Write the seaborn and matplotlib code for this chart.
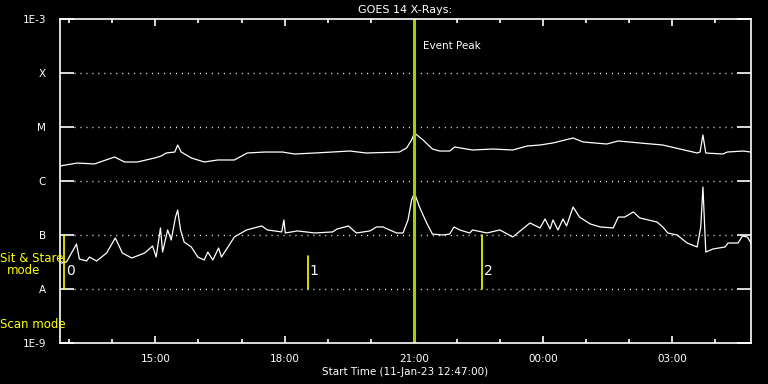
import pandas as pd
import seaborn as sns
import matplotlib.pyplot as plt
import matplotlib.dates as mdates
from matplotlib.ticker import FixedLocator, NullFormatter

# GOES 14 flux (W/m^2)
long_times = ["12:47", "13:11", "13:35", "14:03", "14:17", "14:35", "14:59", "15:08", "15:15",
              "15:27", "15:31", "15:36", "15:50", "16:08", "16:27", "16:50", "17:08", "17:32",
              "17:57", "18:14", "18:42", "19:31", "19:54", "20:40", "20:50", "20:57", "21:01",
              "21:13", "21:26", "21:36", "21:50", "21:57", "22:22", "22:50", "23:18", "23:38",
              "23:56", "00:14", "00:42", "00:56", "01:29", "01:45", "02:15", "02:47", "03:11",
              "03:35", "03:39", "03:43", "03:47", "04:11", "04:17", "04:39", "04:50"]
long_flux = [1.9e-6, 2.15e-6, 2.07e-6, 2.78e-6, 2.25e-6, 2.25e-6, 2.67e-6, 2.9e-6, 3.3e-6,
             3.44e-6, 4.64e-6, 3.44e-6, 2.67e-6, 2.25e-6, 2.45e-6, 2.45e-6, 3.3e-6, 3.44e-6,
             3.44e-6, 3.16e-6, 3.3e-6, 3.59e-6, 3.3e-6, 3.44e-6, 4.08e-6, 5.74e-6, 7.74e-6,
             5.74e-6, 3.91e-6, 3.59e-6, 3.59e-6, 4.26e-6, 3.75e-6, 3.91e-6, 3.75e-6, 4.45e-6,
             4.64e-6, 5.06e-6, 6.25e-6, 5.28e-6, 4.84e-6, 5.51e-6, 5.06e-6, 4.64e-6, 3.91e-6,
             3.3e-6, 3.44e-6, 7.11e-6, 3.3e-6, 3.16e-6, 3.44e-6, 3.59e-6, 3.44e-6]

short_times = ["12:49", "12:56", "13:10", "13:14", "13:24", "13:28", "13:38", "13:52", "14:04",
               "14:14", "14:27", "14:45", "14:56", "15:01", "15:07", "15:10", "15:17", "15:22",
               "15:28", "15:31", "15:35", "15:40", "15:50", "15:59", "16:08", "16:13", "16:20",
               "16:28", "16:32", "16:50", "17:07", "17:28", "17:36", "17:56", "17:59", "18:01",
               "18:18", "18:42", "19:07", "19:13", "19:29", "19:40", "19:59", "20:08", "20:17",
               "20:36", "20:45", "20:52", "20:57", "21:01", "21:08", "21:18", "21:26", "21:40",
               "21:50", "21:56", "22:04", "22:18", "22:22", "22:42", "23:00", "23:18", "23:42",
               "23:56", "00:03", "00:10", "00:14", "00:21", "00:28", "00:33", "00:42", "00:51",
               "01:06", "01:20", "01:38", "01:45", "01:54", "02:06", "02:15", "02:39", "02:47",
               "02:54", "03:07", "03:21", "03:35", "03:40", "03:43", "03:47", "03:57", "04:14",
               "04:18", "04:32", "04:38", "04:45", "04:50"]
short_flux = [3.03e-8, 3.16e-8, 6.81e-8, 3.59e-8, 3.3e-8, 3.91e-8, 3.3e-8, 4.64e-8, 8.8e-8,
              4.64e-8, 3.75e-8, 4.64e-8, 6.25e-8, 3.91e-8, 1.35e-7, 4.84e-8, 1.24e-7, 8.07e-8,
              2.15e-7, 2.9e-7, 1.24e-7, 7.41e-8, 6.0e-8, 3.91e-8, 3.44e-8, 4.84e-8, 3.44e-8,
              5.74e-8, 3.91e-8, 9.18e-8, 1.24e-7, 1.47e-7, 1.24e-7, 1.14e-7, 1.9e-7, 1.09e-7,
              1.19e-7, 1.09e-7, 1.14e-7, 1.29e-7, 1.47e-7, 1.09e-7, 1.19e-7, 1.41e-7, 1.41e-7,
              1.09e-7, 1.09e-7, 1.9e-7, 4.45e-7, 6.0e-7, 3.3e-7, 1.67e-7, 1.04e-7, 1.0e-7,
              1.04e-7, 1.41e-7, 1.24e-7, 1.09e-7, 1.24e-7, 1.09e-7, 1.24e-7, 9.18e-8, 1.67e-7,
              1.35e-7, 1.98e-7, 1.29e-7, 1.9e-7, 1.24e-7, 1.98e-7, 1.47e-7, 3.3e-7, 2.15e-7,
              1.6e-7, 1.41e-7, 1.35e-7, 2.15e-7, 2.15e-7, 2.67e-7, 2.07e-7, 1.74e-7, 1.41e-7,
              1.09e-7, 1.0e-7, 7.11e-8, 6.0e-8, 1.41e-7, 7.74e-7, 4.84e-8, 5.51e-8, 6.0e-8,
              7.11e-8, 7.11e-8, 9.58e-8, 9.18e-8, 7.11e-8]

level_values = [1e-3, 1e-4, 1e-5, 1e-6, 1e-7, 1e-8, 1e-9]
level_labels = ["1E-3", "X", "M", "C", "B", "A", "1E-9"]

marker_times = ["12:53", "18:32", "22:35"]
marker_names = ["0", "1", "2"]
marker_tops = [1e-7, 4.1e-8, 1e-7]
event_peak = "21:00"
start, end = "12:47", "04:50"


def to_dt(t):
    day = "2023-01-11" if int(t[:2]) >= 12 else "2023-01-12"
    return pd.Timestamp(day + " " + t)


df_long = pd.DataFrame({"time": [to_dt(t) for t in long_times], "flux": long_flux})
df_short = pd.DataFrame({"time": [to_dt(t) for t in short_times], "flux": short_flux})

sns.set_style("dark", {"axes.facecolor": "black", "figure.facecolor": "black"})
plt.rcParams["font.family"] = ["DejaVu Sans"]

fig = plt.figure(figsize=(7.68, 3.84), dpi=100)
ax = fig.add_axes([60 / 768, 41 / 384, 691 / 768, 324 / 384])
ax.set_facecolor("black")

sns.lineplot(data=df_long, x="time", y="flux", color="white", lw=0.9, ax=ax)
sns.lineplot(data=df_short, x="time", y="flux", color="white", lw=0.9, ax=ax)

ax.set_yscale("log")
ax.set_ylim(1e-9, 1e-3)
ax.set_xlim(to_dt(start), to_dt(end))

# dotted class levels
for v in level_values[1:-1]:
    ax.axhline(v, color="white", lw=1, ls=(0, (0.7, 3.6)), xmin=0.02, xmax=0.98)

# marker lines
for t, name, top in zip(marker_times, marker_names, marker_tops):
    ax.plot([to_dt(t), to_dt(t)], [1e-8, top], color="#ffff00", lw=1.2)
    ax.text(to_dt(t) + pd.Timedelta(minutes=3), 1.6e-8, name, color="white", fontsize=10,
            va="bottom", ha="left")

ax.axvline(to_dt(event_peak), color="#a2d000", lw=2.2)
ax.text(to_dt(event_peak) + pd.Timedelta(minutes=13), 3.2e-4, "Event Peak", color="white",
        fontsize=7.5, va="center")

# axes styling
for s in ax.spines.values():
    s.set_color("white")
    s.set_linewidth(1.2)
ax.yaxis.set_major_locator(FixedLocator(level_values))
ax.yaxis.set_minor_locator(FixedLocator([]))
ax.set_yticklabels(level_labels)
ax.tick_params(axis="y", which="major", direction="in", length=10, width=1.2, color="white",
               labelcolor="white", labelsize=7.5, right=True, left=True, pad=10)
ax.xaxis.set_major_locator(mdates.HourLocator(byhour=[0, 3, 15, 18, 21]))
ax.xaxis.set_minor_locator(mdates.HourLocator())
ax.xaxis.set_major_formatter(mdates.DateFormatter("%H:%M"))
ax.xaxis.set_minor_formatter(NullFormatter())
ax.tick_params(axis="x", which="major", direction="in", length=5, width=1.2, color="white",
               labelcolor="white", labelsize=7.5, top=True, bottom=True, pad=8)
ax.tick_params(axis="x", which="minor", direction="in", length=3, width=1.2, color="white",
               top=True, bottom=True)
ax.grid(False)
ax.set_xlabel("Start Time (11-Jan-23 12:47:00)", color="white", fontsize=7.5, labelpad=2)
ax.set_ylabel("")
ax.set_title("GOES 14 X-Rays:", color="white", fontsize=8, pad=4)

fig.text(0.5 / 768, 1 - 258 / 384, "Sit & Stare", color="#ffff00", fontsize=8.5, va="center")
fig.text(24 / 768, 1 - 271 / 384, "mode", color="#ffff00", fontsize=8.5, va="center",
         ha="center")
fig.text(0.5 / 768, 1 - 324 / 384, "Scan mode", color="#ffff00", fontsize=8.5, va="center")

fig.savefig("out.png", dpi=100, facecolor="black")
